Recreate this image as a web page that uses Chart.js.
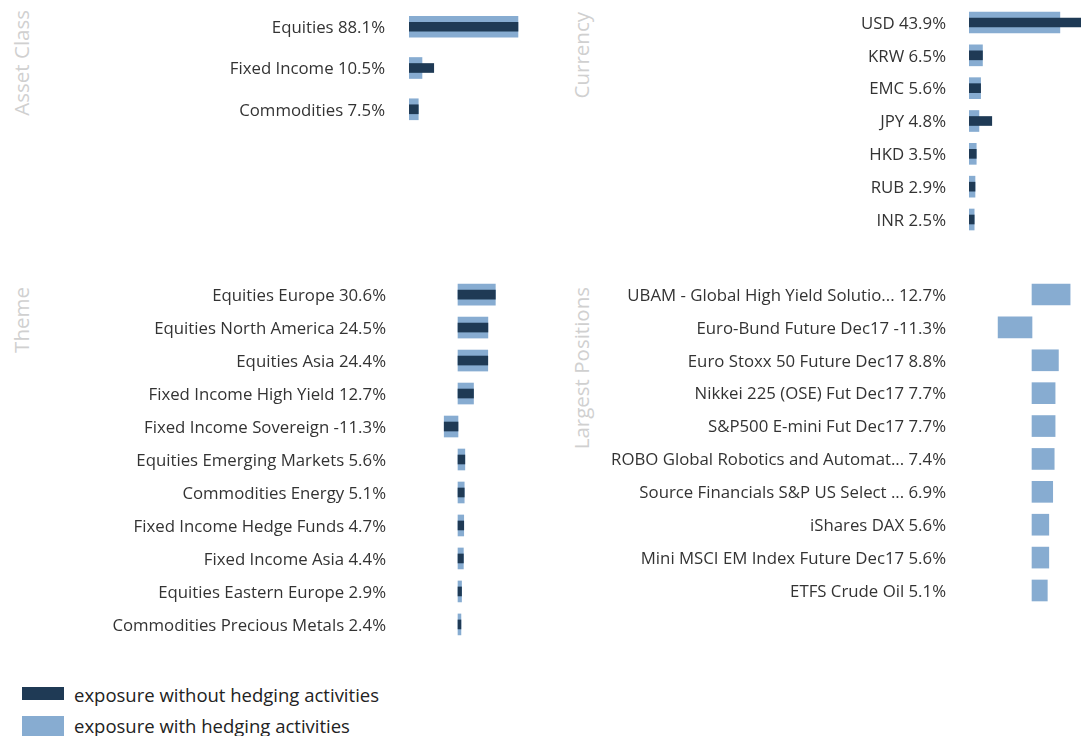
<!DOCTYPE html>
<html>
<head>
<meta charset="utf-8">
<title>Exposure</title>
<script src="https://cdn.jsdelivr.net/npm/chart.js@4.4.1/dist/chart.umd.min.js"></script>
<style>
  html, body { margin: 0; padding: 0; background: #fff; }
  body { width: 1081px; height: 736px; overflow: hidden; position: relative; font-family: 'Open Sans', sans-serif; }
  canvas { position: absolute; }
  .title { position: absolute; writing-mode: vertical-rl; transform: rotate(180deg);
           color: #d0d0d0; font-size: 20.5px; line-height: 24px; white-space: nowrap; }
  .lg-box { position: absolute; left: 22px; width: 42px; }
  .lg-text { position: absolute; left: 74px; font-size: 18.5px; line-height: 22px; color: #222; white-space: nowrap; }
</style>
</head>
<body>

<div class="title" style="left:9px; top:10px;">Asset Class</div>
<div class="title" style="left:569px; top:12px;">Currency</div>
<div class="title" style="left:9px; top:287px;">Theme</div>
<div class="title" style="left:569px; top:287px;">Largest Positions</div>

<canvas id="chart-asset"    width="560" height="144" style="left:0;    top:-4px;"></canvas>
<canvas id="chart-currency" width="521" height="250" style="left:560px; top:-4px;"></canvas>
<canvas id="chart-theme"    width="560" height="383" style="left:0;    top:268px;"></canvas>
<canvas id="chart-position" width="521" height="349" style="left:560px; top:268px;"></canvas>

<div class="lg-box" style="top:687px; height:13px; background:#1f3a55;"></div>
<div class="lg-text" style="top:684px;">exposure without hedging activities</div>
<div class="lg-box" style="top:716px; height:21px; background:#87acd1;"></div>
<div class="lg-text" style="top:715px;">exposure with hedging activities</div>

<script>
// ── Data ──────────────────────────────────────────────
const assetNames     = ['Equities', 'Fixed Income', 'Commodities'];
const assetHedged    = [88.1, 10.5, 7.5];
const assetUnhedged  = [88.1, 20.0, 7.5];

const currencyNames     = ['USD', 'KRW', 'EMC', 'JPY', 'HKD', 'RUB', 'INR'];
const currencyHedged    = [43.9, 6.5, 5.6, 4.8, 3.5, 2.9, 2.5];
const currencyUnhedged  = [58.0, 6.5, 5.6, 11.0, 3.5, 2.9, 2.5];

const themeNames = [
  'Equities Europe', 'Equities North America', 'Equities Asia', 'Fixed Income High Yield',
  'Fixed Income Sovereign', 'Equities Emerging Markets', 'Commodities Energy',
  'Fixed Income Hedge Funds', 'Fixed Income Asia', 'Equities Eastern Europe', 'Commodities Precious Metals',
];
const themeHedged   = [30.6, 24.5, 24.4, 12.7, -11.3, 5.6, 5.1, 4.7, 4.4, 2.9, 2.4];
const themeUnhedged = [30.6, 24.5, 24.4, 12.7, -11.3, 5.6, 5.1, 4.7, 4.4, 2.9, 2.4];

const positionNames = [
  'UBAM - Global High Yield Solutio...', 'Euro-Bund Future Dec17', 'Euro Stoxx 50 Future Dec17',
  'Nikkei 225 (OSE) Fut Dec17', 'S&P500 E-mini Fut Dec17', 'ROBO Global Robotics and Automat...',
  'Source Financials S&P US Select ...', 'iShares DAX', 'Mini MSCI EM Index Future Dec17', 'ETFS Crude Oil',
];
const positionHedged = [12.7, -11.3, 8.8, 7.7, 7.7, 7.4, 6.9, 5.6, 5.6, 5.1];

// ── Styles ────────────────────────────────────────────
const DARK  = '#1f3a55';
const LIGHT = '#87acd1';

// ── Chart builder ─────────────────────────────────────
function _barChart(id, { names, hedged, unhedged, min, max, axisWidth, gap, padRight }) {
  const datasets = [];
  if (unhedged) {
    datasets.push({ label: 'exposure without hedging activities', data: unhedged,
      backgroundColor: DARK, barThickness: 9, grouped: false });
  }
  datasets.push({ label: 'exposure with hedging activities', data: hedged,
    backgroundColor: LIGHT, barThickness: 21, grouped: false });

  return new Chart(document.getElementById(id), {
    type: 'bar',
    data: { labels: names.map((n, i) => `${n} ${hedged[i].toFixed(1)}%`), datasets },
    options: {
      indexAxis: 'y',
      responsive: false,
      animation: false,
      layout: { padding: { top: 10, bottom: 10, left: 0, right: padRight } },
      plugins: { legend: { display: false }, tooltip: { enabled: false } },
      scales: {
        x: { display: false, min, max },
        y: {
          afterFit: s => { s.width = axisWidth; },
          border: { display: false },
          grid: { drawOnChartArea: false, drawTicks: true, tickLength: gap, color: 'transparent' },
          ticks: { padding: 0, labelOffset: 1.5, autoSkip: false, color: '#333',
                   font: { family: 'Open Sans', size: 16.8 } },
        },
      },
    },
  });
}

// ── Init ──────────────────────────────────────────────
_barChart('chart-asset', {
  names: assetNames, hedged: assetHedged, unhedged: assetUnhedged,
  min: 0, max: 114, axisWidth: 409, gap: 24, padRight: 10,
});
_barChart('chart-currency', {
  names: currencyNames, hedged: currencyHedged, unhedged: currencyUnhedged,
  min: 0, max: 54.1, axisWidth: 409, gap: 23, padRight: 0,
});
_barChart('chart-theme', {
  names: themeNames, hedged: themeHedged, unhedged: themeUnhedged,
  min: -14.75, max: 75.4, axisWidth: 440, gap: 54, padRight: 10,
});
_barChart('chart-position', {
  names: positionNames, hedged: positionHedged, unhedged: null,
  min: -14, max: 16.33, axisWidth: 430, gap: 44, padRight: 0,
});
</script>
</body>
</html>
